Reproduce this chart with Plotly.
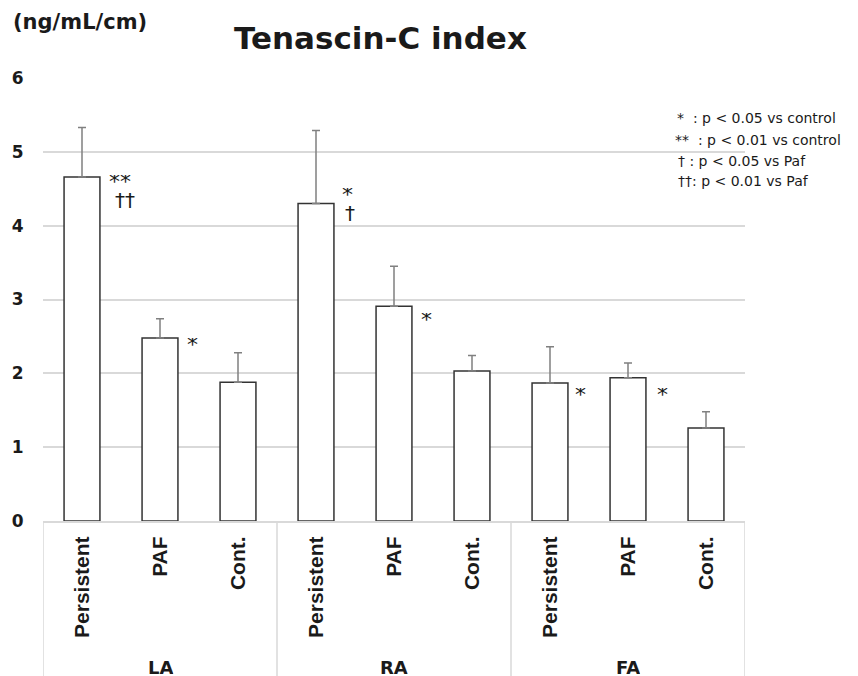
import plotly.graph_objects as go

groups = ["LA", "RA", "FA"]
conditions = ["Persistent", "PAF", "Cont."]
means = [4.66, 2.48, 1.88, 4.30, 2.91, 2.03, 1.87, 1.94, 1.26]
err_upper = [0.67, 0.26, 0.40, 0.99, 0.54, 0.21, 0.49, 0.20, 0.22]
y_ticks = [0, 1, 2, 3, 4, 5, 6]

# significance marks: (bar index, text, y value, x offset, font size)
sig_marks = [
    (0, "**", 4.61, 0.32, 22), (0, "††", 4.35, 0.40, 20),
    (1, "*", 2.40, 0.32, 22),
    (3, "*", 4.43, 0.31, 22), (3, "†", 4.17, 0.35, 20),
    (4, "*", 2.73, 0.32, 22),
    (6, "*", 1.72, 0.30, 22),
    (7, "*", 1.72, 0.35, 22),
]
legend_lines = [
    "*  : p < 0.05 vs control",
    "**  : p < 0.01 vs control",
    "† : p < 0.05 vs Paf",
    "††: p < 0.01 vs Paf",
]

n = len(means)
xs = list(range(n))
ticktext = [c for g in groups for c in conditions]

W, H = 858, 676
L, R, T, B = 43, 113, 78, 155
pw, ph = W - L - R, H - T - B

def px_x(p):
    return (p - L) / pw

def px_y(p):
    return (H - B - p) / ph

fig = go.Figure()
fig.add_trace(go.Bar(
    x=xs, y=means, width=0.46,
    marker=dict(color="white", line=dict(color="#333333", width=1.5)),
    error_y=dict(type="data", array=err_upper, arrayminus=[0] * n, symmetric=False,
                 color="#808080", thickness=1.5, width=4),
    showlegend=False, hoverinfo="skip",
))

ann = []
for i, txt, yv, off, fs in sig_marks:
    a = dict(x=i + off, y=yv, xref="x", yref="y", text=txt, showarrow=False,
             xanchor="left", yanchor="middle",
             font=dict(family="DejaVu Sans", size=fs, color="#1a1a1a"))
    if "*" in txt:
        a["height"] = 12
    ann.append(a)

for gi, g in enumerate(groups):
    ann.append(dict(x=gi * 3 + 1, y=px_y(667), xref="x", yref="paper", text=g,
                    showarrow=False, xanchor="center", yanchor="middle", height=16,
                    font=dict(family="DejaVu Sans", size=18, color="#1a1a1a", weight="bold")))

ann.append(dict(x=px_x(380), y=px_y(38), xref="paper", yref="paper",
                text="Tenascin-C index", showarrow=False, xanchor="center", yanchor="middle",
                font=dict(family="DejaVu Sans", size=31, color="#1a1a1a", weight="bold")))
ann.append(dict(x=px_x(11), y=px_y(22), xref="paper", yref="paper",
                text="(ng/mL/cm)", showarrow=False, xanchor="left", yanchor="middle",
                font=dict(family="DejaVu Sans", size=21, color="#1a1a1a", weight="bold")))

leg_pos = [(675, 118), (673, 140), (676, 161), (676, 181)]
for (lx, ly), txt in zip(leg_pos, legend_lines):
    ann.append(dict(x=px_x(lx), y=px_y(ly), xref="paper", yref="paper", text=txt,
                    showarrow=False, xanchor="left", yanchor="middle",
                    font=dict(family="DejaVu Sans", size=14, color="#1a1a1a")))

shapes = []
for xb in [-0.5, 2.5, 5.5, 8.5]:
    shapes.append(dict(type="line", xref="x", yref="paper", x0=xb, x1=xb, y0=0, y1=-B / ph,
                       line=dict(color="#d9d9d9", width=1.5)))

fig.update_layout(
    width=W, height=H, margin=dict(l=L, r=R, t=T, b=B, pad=0),
    plot_bgcolor="white", paper_bgcolor="white",
    annotations=ann, shapes=shapes,
    xaxis=dict(range=[-0.5, n - 0.5], tickvals=xs, ticktext=ticktext,
               tickangle=-90, showgrid=False, zeroline=False,
               showline=True, linecolor="#d9d9d9", linewidth=2,
               ticks="outside", ticklen=5, tickcolor="rgba(0,0,0,0)",
               tickfont=dict(family="Liberation Sans", size=21, color="#1a1a1a", weight="bold")),
    yaxis=dict(range=[0, 6], tickvals=y_ticks, showgrid=True, gridcolor="#d9d9d9", gridwidth=1.5,
               zeroline=False, showline=False, ticks="outside", ticklen=15,
               tickcolor="rgba(0,0,0,0)",
               tickfont=dict(family="DejaVu Sans", size=17, color="#1a1a1a", weight="bold")),
)

fig.write_html("out.html", config={"displayModeBar": False},
               post_script="document.body.style.margin='0px';document.body.style.overflow='hidden';")
